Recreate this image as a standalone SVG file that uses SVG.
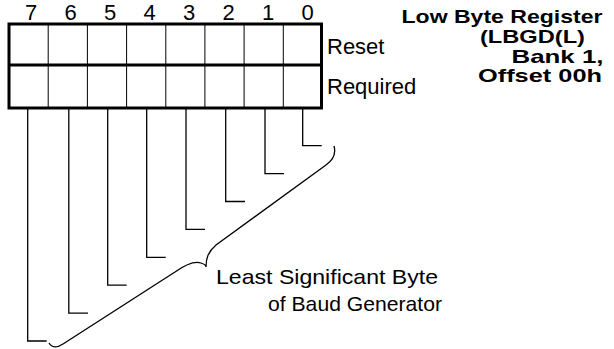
<svg xmlns="http://www.w3.org/2000/svg" width="614" height="349" viewBox="0 0 614 349">
<style>
.t{font-family:"Liberation Sans",Arial,sans-serif;fill:#000}
.b{font-weight:bold;font-size:19px}
.d{font-size:22px;text-anchor:middle}
.r{font-size:22px}
.l{font-size:21px}
.c{fill:none;stroke:#000;stroke-width:1.3}
.g{fill:none;stroke:#000;stroke-width:1}
</style>
<rect width="614" height="349" fill="#fff"/>
<g id="register">
<g class="g">
<line x1="48.2" y1="24" x2="48.2" y2="108"/>
<line x1="87.4" y1="24" x2="87.4" y2="108"/>
<line x1="126.6" y1="24" x2="126.6" y2="108"/>
<line x1="165.8" y1="24" x2="165.8" y2="108"/>
<line x1="204.9" y1="24" x2="204.9" y2="108"/>
<line x1="244.1" y1="24" x2="244.1" y2="108"/>
<line x1="283.3" y1="24" x2="283.3" y2="108"/>
</g>
<rect x="9" y="24" width="312.5" height="84" fill="none" stroke="#000" stroke-width="3"/>
<line x1="9" y1="65" x2="321.5" y2="65" stroke="#000" stroke-width="3"/>
</g>
<g id="bits" class="t d">
<text x="31" y="20">7</text>
<text x="70.5" y="20">6</text>
<text x="110" y="20">5</text>
<text x="149.5" y="20">4</text>
<text x="189" y="20">3</text>
<text x="228.5" y="20">2</text>
<text x="268" y="20">1</text>
<text x="307.5" y="20">0</text>
</g>
<g id="row-labels" class="t r">
<text x="327" y="54">Reset</text>
<text x="327" y="94">Required</text>
</g>
<g id="title" class="t b">
<text x="401.5" y="23" textLength="201" lengthAdjust="spacingAndGlyphs">Low Byte Register</text>
<text x="480" y="43" textLength="105" lengthAdjust="spacingAndGlyphs">(LBGD(L)</text>
<text x="511.5" y="63" textLength="92" lengthAdjust="spacingAndGlyphs">Bank 1,</text>
<text x="478" y="82" textLength="124" lengthAdjust="spacingAndGlyphs">Offset 00h</text>
</g>
<g id="connectors" class="c">
<polyline points="302.7,108 302.7,145.7 321.7,145.7"/>
<polyline points="265,108 265,173.6 284,173.6"/>
<polyline points="225.7,108 225.7,201.5 245,201.5"/>
<polyline points="186,108 186,229.4 205,229.4"/>
<polyline points="146.7,108 146.7,257.3 165.7,257.3"/>
<polyline points="107.7,108 107.7,285.2 126.7,285.2"/>
<polyline points="68.8,108 68.8,313.1 88,313.1"/>
<polyline points="27.7,108 27.7,341 46.7,341"/>
</g>
<g id="brace">
<path class="c" d="M49,343 C52,348 57,348 63,344 L175,272 C185,265 195,261 201,263 C204,264 206,266 206,267 C206,258 208,252 216,245 L326,165 C333,160 336,153 334,146"/>
</g>
<g id="caption" class="t l">
<text x="216" y="284" textLength="222" lengthAdjust="spacingAndGlyphs">Least Significant Byte</text>
<text x="268" y="311" textLength="174" lengthAdjust="spacingAndGlyphs">of Baud Generator</text>
</g>
</svg>
